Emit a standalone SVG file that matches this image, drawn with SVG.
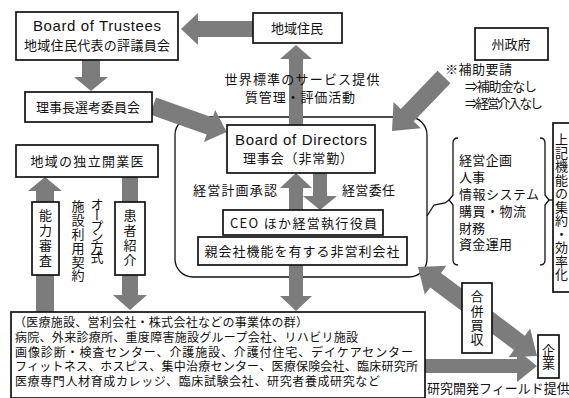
<svg xmlns="http://www.w3.org/2000/svg" width="569" height="398" viewBox="0 0 569 398">
<style>
.box{fill:#fff;stroke:#111;stroke-width:1.7}
.frame{fill:none;stroke:#111;stroke-width:1.3}
.arrow{fill:#7c7c7c}
.line{fill:none;stroke:#111;stroke-width:1.3}
.jp{font-family:"Noto Sans CJK JP","Noto Sans",sans-serif;font-size:13px;fill:#111}
.en{font-family:"Liberation Sans",Arial,sans-serif;font-size:15px;fill:#111}
.mid{text-anchor:middle}
.v{writing-mode:vertical-rl;text-anchor:middle}
.small{font-size:12px}
</style>
<rect width="569" height="398" fill="#fff"/>

<g id="organization-frame">
<rect class="frame" x="175" y="117" width="252" height="160" rx="18"/>
</g>

<g id="connectors">
<polygon class="arrow" points="82,60 100,60 100,77 108,77 91,91 74,77 82,77"/>
<polygon class="arrow" transform="translate(153,106) rotate(19.4)" points="0,-9 60,-9 60,-17 78,0 60,17 60,9 0,9"/>
<polygon class="arrow" points="254,21 198,21 198,13 181,29 198,45 198,37 254,37"/>
<polygon class="arrow" points="289,125 289,59 280,59 296,45 312,59 303,59 303,125"/>
<polygon class="arrow" transform="translate(444,77) rotate(133.9)" points="0,-9 53,-9 53,-19 75,0 53,19 53,9 0,9"/>
<polygon class="arrow" points="289,210 289,188 280,188 296,173 312,188 303,188 303,210"/>
<polygon class="arrow" points="313,173 327,173 327,196 337,196 320,210 303,196 313,196"/>
<polygon class="arrow" points="289,265 303,265 303,296 312,296 296,311 280,296 289,296"/>
<polygon class="arrow" points="36,312 36,191 28,191 45,177 62,191 54,191 54,312"/>
<polygon class="arrow" points="122,177 138,177 138,295 147,295 130,310 113,295 122,295"/>
<polygon class="arrow" transform="translate(418,267) rotate(36.8)" points="0,0 22,-18 22,-9 126.6,-9 126.6,-18 148.6,0 126.6,18 126.6,9 22,9 22,18"/>
<polygon class="arrow" points="425,359 517,359 517,350 537,366 517,382 517,373 425,373"/>
<polyline class="line" points="427,216 434,205 445,203 449,200"/>
<path class="line" d="M458,138 Q453,138 453,143 L453,195 L449,200 L453,205 L453,260 Q453,265 458,265"/>
<path class="line" d="M540,138 Q545,138 545,143 L545,195 L549,200 L545,205 L545,260 Q545,265 540,265"/>
<line class="line" x1="549" y1="200" x2="553" y2="200"/>
</g>

<g id="board-of-trustees">
<rect class="box" x="16" y="12" width="162" height="48"/>
<text class="en mid" x="97" y="31" textLength="128">Board of Trustees</text>
<text class="jp mid" x="97" y="50" textLength="146">地域住民代表の評議員会</text>
</g>

<g id="selection-committee">
<rect class="box" x="25" y="92" width="127" height="30"/>
<text class="jp mid" x="88" y="112" textLength="104">理事長選考委員会</text>
</g>

<g id="local-residents">
<rect class="box" x="253" y="13" width="89" height="30"/>
<text class="jp mid" x="297" y="33" font-size="14">地域住民</text>
</g>

<g id="service-label">
<text class="jp mid" x="302" y="84" textLength="155">世界標準のサービス提供</text>
<text class="jp mid" x="300" y="102" textLength="110">質管理・評価活動</text>
</g>

<g id="state-government">
<rect class="box" x="475" y="28" width="73" height="32"/>
<text class="jp mid" x="511" y="49">州政府</text>
<text class="jp" x="445" y="74" textLength="67">※補助要請</text>
<text class="jp" x="465" y="91" textLength="72">⇒補助金なし</text>
<text class="jp" x="465" y="108" textLength="78">⇒経営介入なし</text>
</g>

<g id="independent-physicians">
<rect class="box" x="16" y="145" width="142" height="32"/>
<text class="jp mid" x="87" y="166" font-size="14" textLength="113">地域の独立開業医</text>
</g>

<g id="competence-review">
<rect class="box" x="32" y="202" width="27" height="73"/>
<text class="jp v" x="45.5" y="238" textLength="58">能力審査</text>
</g>

<g id="open-contract-label">
<text class="jp v" x="97" y="231" textLength="66">オープン方式</text>
<text class="jp v" x="78" y="241" textLength="82">施設利用契約</text>
</g>

<g id="patient-referral">
<rect class="box" x="115" y="202" width="30" height="73"/>
<text class="jp v" x="130" y="238" textLength="58">患者紹介</text>
</g>

<g id="board-of-directors">
<rect class="box" x="227" y="125" width="148" height="48"/>
<text class="en mid" x="301" y="145" textLength="132">Board of Directors</text>
<text class="jp mid" x="298" y="163" textLength="110">理事会（非常勤）</text>
</g>

<g id="plan-approval-label">
<text class="jp" x="193" y="195" textLength="84">経営計画承認</text>
</g>
<g id="delegation-label">
<text class="jp" x="342" y="195" textLength="53">経営委任</text>
</g>

<g id="ceo">
<rect class="box" x="223" y="210" width="160" height="25"/>
<text class="jp" x="230" y="228" font-size="14" textLength="147">CEO ほか経営執行役員</text>
</g>

<g id="parent-company">
<rect class="box" x="198" y="237" width="209" height="28"/>
<text class="jp mid" x="302" y="256" font-size="14" textLength="195">親会社機能を有する非営利会社</text>
</g>

<g id="functions-list">
<text class="jp" x="459" y="165" textLength="53">経営企画</text>
<text class="jp" x="459" y="182">人事</text>
<text class="jp" x="459" y="199" textLength="80">情報システム</text>
<text class="jp" x="459" y="216" textLength="67">購買・物流</text>
<text class="jp" x="459" y="233">財務</text>
<text class="jp" x="459" y="249" textLength="53">資金運用</text>
</g>

<g id="centralization">
<rect class="box" x="553" y="123" width="30" height="169"/>
<text class="jp v" x="561.5" y="207" font-size="12" textLength="148">上記機能の集約・効率化</text>
</g>

<g id="mergers">
<rect class="box" x="462" y="283" width="30" height="70"/>
<text class="jp v" x="477" y="318" textLength="56">合併買収</text>
</g>

<g id="companies">
<rect class="box" x="538" y="335" width="21" height="43"/>
<text class="jp v" x="548.5" y="356.5" font-size="12">企業</text>
</g>

<g id="research-label">
<text class="jp" x="427" y="393" font-size="13.5">研究開発フィールド提供</text>
</g>

<g id="business-group">
<rect class="box" x="11" y="312" width="414" height="86"/>
<text class="jp small" x="14" y="327" textLength="294">（医療施設、営利会社・株式会社などの事業体の群）</text>
<text class="jp small" x="15" y="342" textLength="343">病院、外来診療所、重度障害施設グループ会社、リハビリ施設</text>
<text class="jp small" x="15" y="356.5" textLength="398">画像診断・検査センター、介護施設、介護付住宅、デイケアセンター</text>
<text class="jp small" x="15" y="371" textLength="403">フィットネス、ホスピス、集中治療センター、医療保険会社、臨床研究所</text>
<text class="jp small" x="15" y="385.5" textLength="365">医療専門人材育成カレッジ、臨床試験会社、研究者養成研究など</text>
</g>
</svg>
